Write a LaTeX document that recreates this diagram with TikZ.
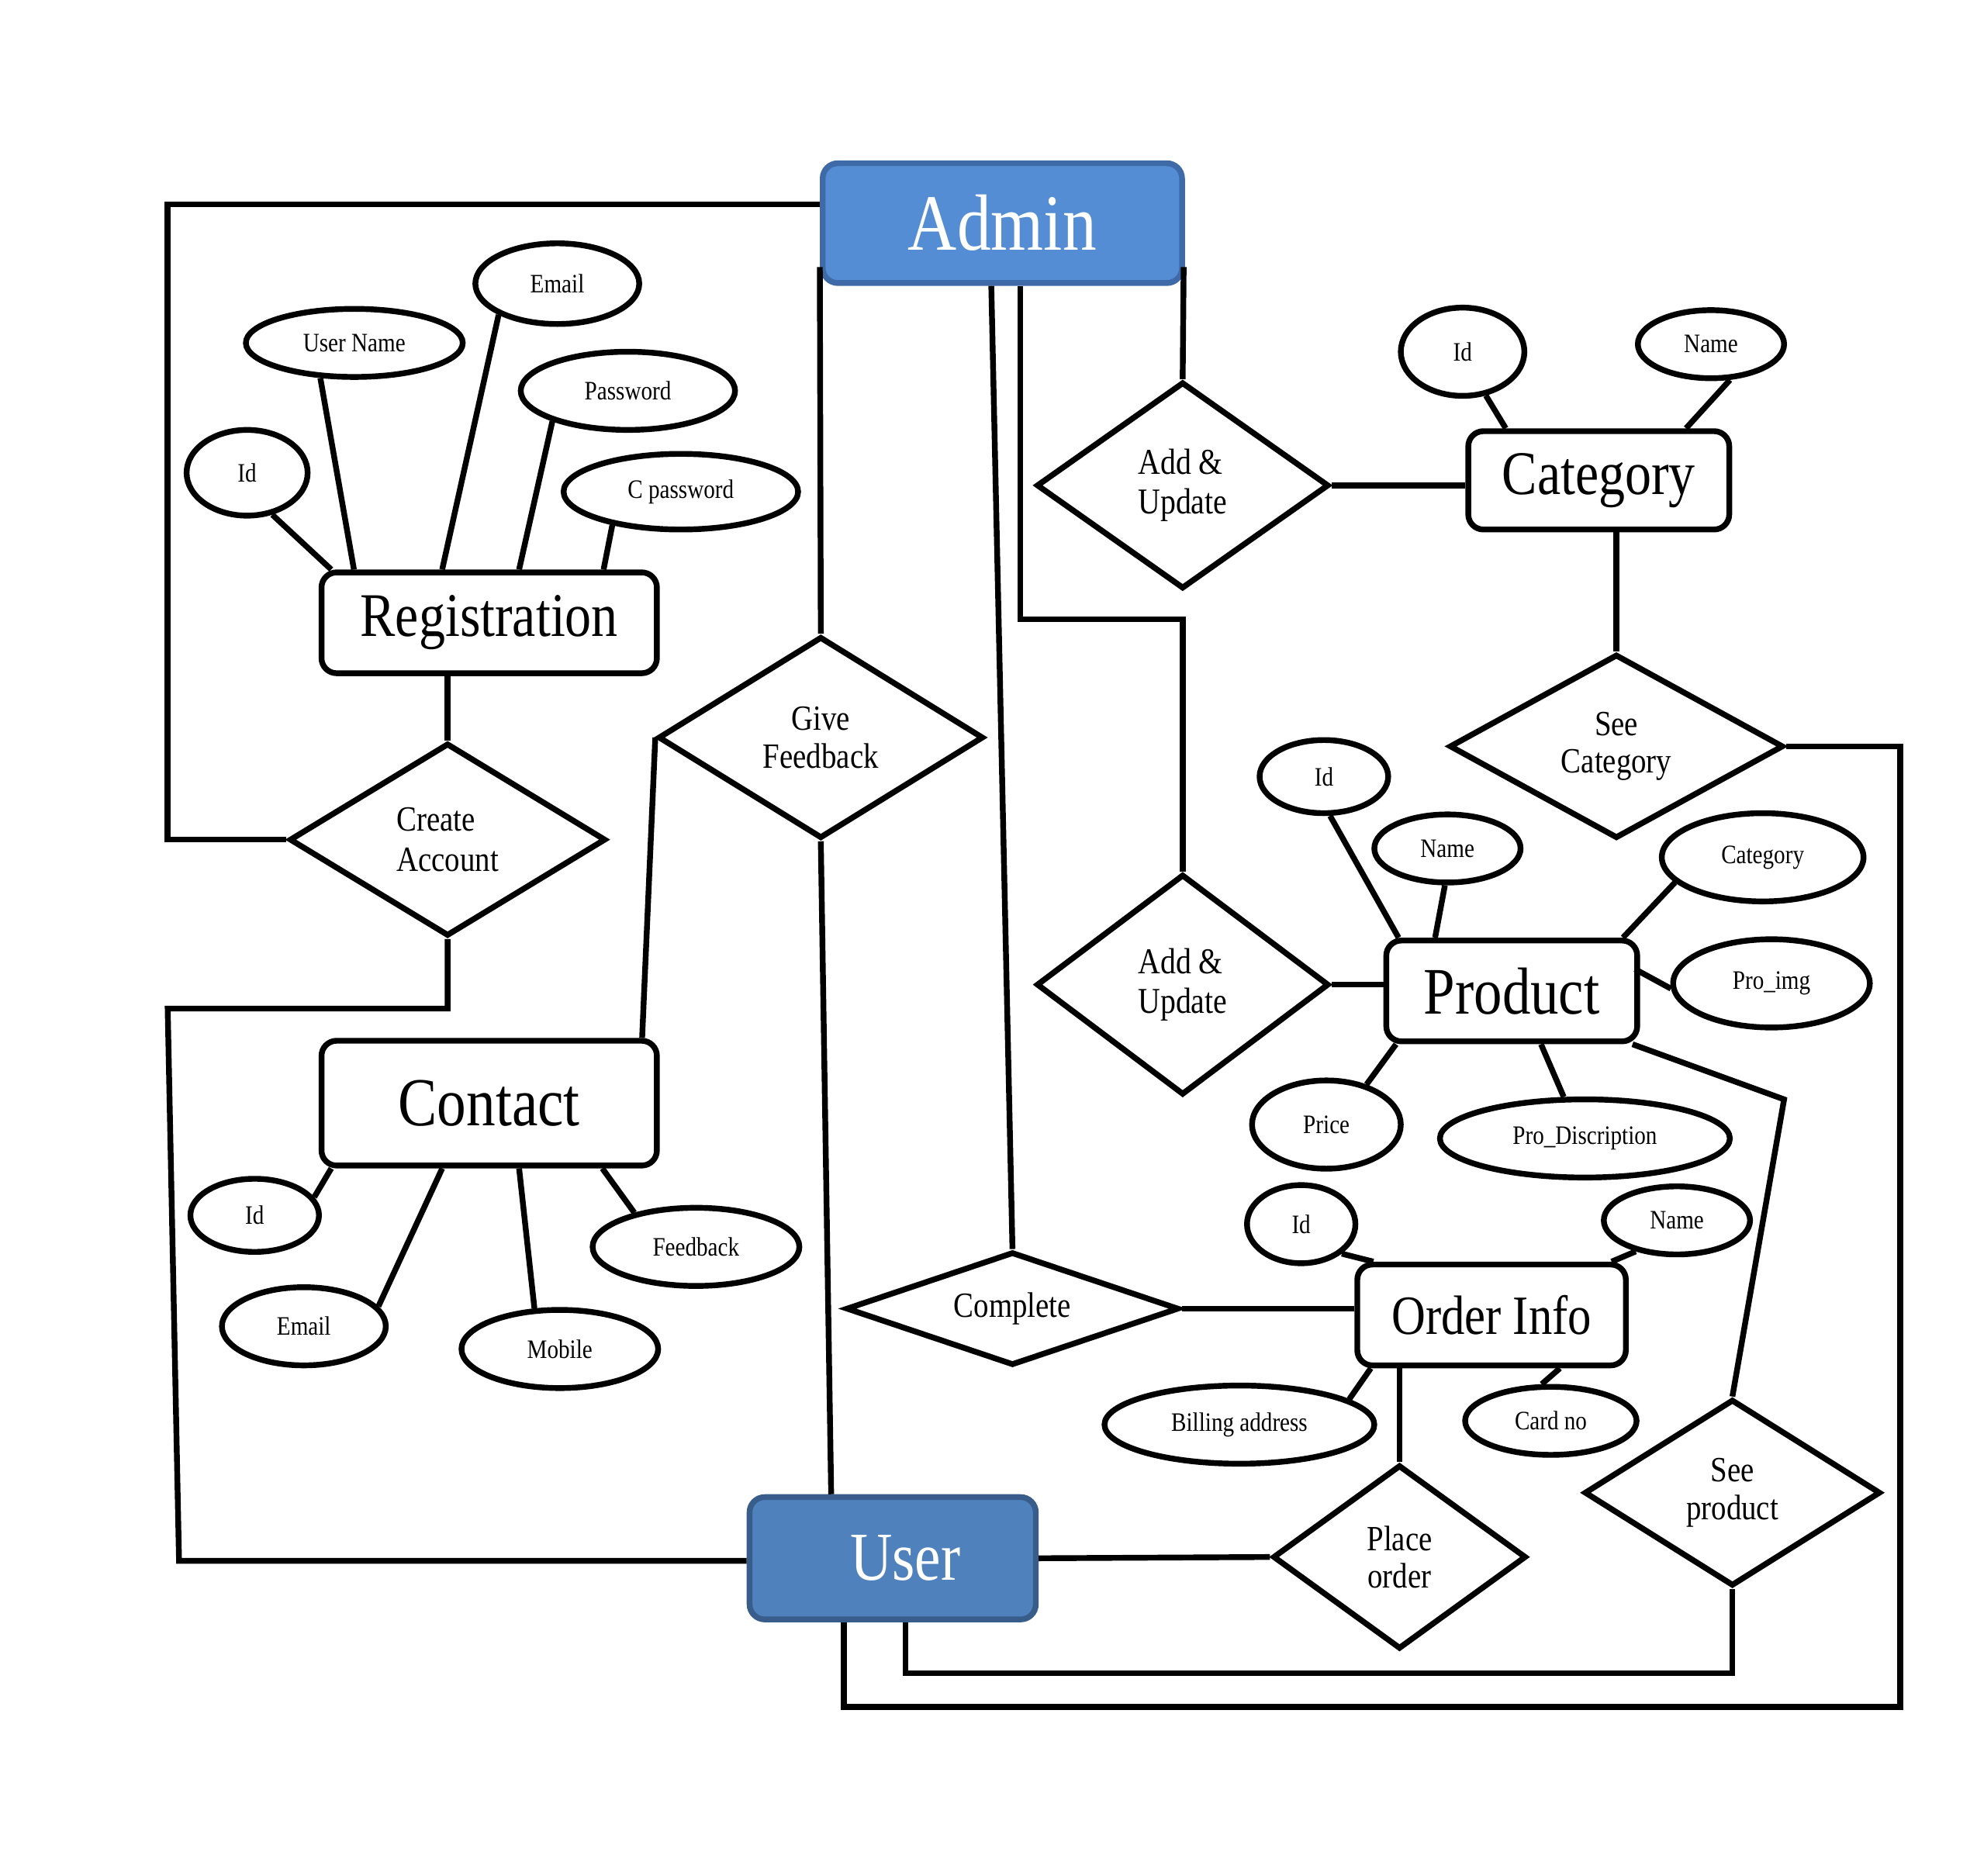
\documentclass[tikz,border=0pt]{standalone}
\usepackage{fontspec}
\setmainfont{Liberation Serif}[FakeStretch=0.85]
\usetikzlibrary{shapes,positioning,calc}
\definecolor{adminblue}{RGB}{84,141,212}
\definecolor{adminedge}{RGB}{62,106,168}
\definecolor{userblue}{RGB}{79,129,189}
\definecolor{useredge}{RGB}{56,93,138}

\tikzset{
  entity/.style={draw, rounded corners=0.12cm, line width=1.3pt, fill=white, inner sep=0pt},
  attr/.style={draw, ellipse, line width=1.3pt, fill=white, inner sep=0pt, font=\fontsize{6}{7}\selectfont},
  rel/.style={draw, diamond, line width=1.3pt, fill=white, inner sep=0pt, align=center, font=\fontsize{8}{8.5}\selectfont},
  link/.style={line width=1.3pt}
}

\begin{document}
\begin{tikzpicture}[x=0.1mm, y=-0.1mm]
    \useasboundingbox (0,0) rectangle (1568,1488);

    % Entities
    \node[entity, fill=adminblue, draw=adminedge, text=white, minimum width=2.85cm, minimum height=0.95cm, font=\fontsize{18}{20}\selectfont] (admin) at (795,177) {Admin};
    \node[entity, minimum width=2.66cm, minimum height=0.8cm, font=\fontsize{14}{16}\selectfont] (registration) at (388,494) {Registration};
    \node[entity, minimum width=2.66cm, minimum height=0.99cm, font=\fontsize{15.5}{17}\selectfont] (contact) at (388,875) {Contact};
    \node[entity, minimum width=2.07cm, minimum height=0.78cm, font=\fontsize{14}{16}\selectfont] (category) at (1268,381) {Category};
    \node[entity, minimum width=1.99cm, minimum height=0.8cm, font=\fontsize{15}{17}\selectfont] (product) at (1199,786) {Product};
    \node[entity, minimum width=2.13cm, minimum height=0.8cm, font=\fontsize{12.5}{14}\selectfont] (orderinfo) at (1183,1043) {Order Info};
    \node[entity, fill=userblue, draw=useredge, text=white, minimum width=2.27cm, minimum height=0.97cm, font=\fontsize{15.5}{17}\selectfont] (user) at (708,1236) {\hspace{0.2cm}User};

    % Relations
    \node[rel, minimum width=2.32cm, minimum height=1.64cm, align=left, font=\fontsize{8.2}{9}\selectfont] (addcat) at (938,385) {Add \&\\Update};
    \node[rel, minimum width=2.32cm, minimum height=1.75cm, align=left, font=\fontsize{8.2}{9}\selectfont] (addpro) at (938,781) {Add \&\\Update};
    \node[rel, minimum width=2.51cm, minimum height=1.53cm, align=left, font=\fontsize{8}{9}\selectfont] (create) at (355,666) {Create\\Account};
    \node[rel, minimum width=2.58cm, minimum height=1.6cm] (feedback) at (651,585) {Give\\Feedback};
    \node[rel, minimum width=2.65cm, minimum height=1.46cm, aspect=1.8] (seecat) at (1282,592) {See\\Category};
    \node[rel, minimum width=2.64cm, minimum height=0.9cm, aspect=2.9] (complete) at (803,1038) {Complete};
    \node[rel, minimum width=2.01cm, minimum height=1.46cm] (placeorder) at (1110,1235) {Place\\order};
    \node[rel, minimum width=2.35cm, minimum height=1.48cm] (seeproduct) at (1374,1184) {See\\product};

    % Attributes of Registration
    \node[attr, minimum width=0.96cm, minimum height=0.68cm] (regid) at (196,375) {Id};
    \node[attr, minimum width=1.72cm, minimum height=0.54cm] (reguser) at (281,272) {User Name};
    \node[attr, minimum width=1.3cm, minimum height=0.64cm] (regemail) at (442,225) {Email};
    \node[attr, minimum width=1.7cm, minimum height=0.62cm] (regpass) at (498,310) {Password};
    \node[attr, minimum width=1.86cm, minimum height=0.6cm] (regcpass) at (540,390) {C password};

    % Attributes of Contact
    \node[attr, minimum width=1.02cm, minimum height=0.58cm] (conid) at (202,964) {Id};
    \node[attr, minimum width=1.3cm, minimum height=0.62cm] (conemail) at (241,1052) {Email};
    \node[attr, minimum width=1.56cm, minimum height=0.62cm] (conmobile) at (444,1070) {Mobile};
    \node[attr, minimum width=1.64cm, minimum height=0.62cm] (confeed) at (552,989) {Feedback};

    % Attributes of Category
    \node[attr, minimum width=0.98cm, minimum height=0.7cm] (catid) at (1160,279) {Id};
    \node[attr, minimum width=1.16cm, minimum height=0.54cm] (catname) at (1357,273) {Name};

    % Attributes of Product
    \node[attr, minimum width=1.02cm, minimum height=0.58cm] (proid) at (1050,616) {Id};
    \node[attr, minimum width=1.16cm, minimum height=0.54cm] (proname) at (1148,673) {Name};
    \node[attr, minimum width=1.6cm, minimum height=0.7cm] (procat) at (1398,680) {Category};
    \node[attr, minimum width=1.56cm, minimum height=0.7cm] (proimg) at (1405,780) {Pro\_img};
    \node[attr, minimum width=1.18cm, minimum height=0.7cm] (proprice) at (1052,892) {Price};
    \node[attr, minimum width=2.3cm, minimum height=0.62cm] (prodesc) at (1257,903) {Pro\_Discription};

    % Attributes of Order Info
    \node[attr, minimum width=0.86cm, minimum height=0.62cm] (ordid) at (1032,971) {Id};
    \node[attr, minimum width=1.16cm, minimum height=0.54cm] (ordname) at (1330,968) {Name};
    \node[attr, minimum width=2.14cm, minimum height=0.62cm] (ordbill) at (983,1130) {Billing address};
    \node[attr, minimum width=1.36cm, minimum height=0.54cm] (ordcard) at (1230,1127) {Card no};

    % Attribute lines
    \draw[link] (regid.-59) -- ($(registration.north west)+(10,0)$);
    \draw[link] (reguser.226) -- ($(registration.north west)+(28,0)$);
    \draw[link] (regemail.208) -- ($(registration.north west)+(98,0)$);
    \draw[link] (regpass.202) -- ($(registration.north west)+(159,0)$);
    \draw[link] (regcpass.206) -- ($(registration.north west)+(226,0)$);
    \draw[link] (conid.17) -- ($(contact.south west)+(10,0)$);
    \draw[link] (conemail.15) -- ($(contact.south west)+(98,0)$);
    \draw[link] (conmobile.122) -- ($(contact.south west)+(159,0)$);
    \draw[link] (confeed.151) -- ($(contact.south west)+(225,0)$);
    \draw[link] (catid.-62) -- ($(category.north west)+(32,0)$);
    \draw[link] (catname.-62) -- ($(category.north west)+(175,0)$);
    \draw[link] (proid.-81) -- ($(product.north west)+(12,0)$);
    \draw[link] (proname.-94) -- ($(product.north west)+(41,0)$);
    \draw[link] (procat.196) -- ($(product.north west)+(190,0)$);
    \draw[link] (proimg.183) -- ($(product.north east)+(-4,25)$);
    \draw[link] (proprice.45) -- ($(product.south west)+(10,0)$);
    \draw[link] (prodesc.117) -- ($(product.south west)+(125,0)$);
    \draw[link] (ordid.-36) -- ($(orderinfo.north west)+(15,0)$);
    \draw[link] (ordname.217) -- ($(orderinfo.north west)+(204,0)$);
    \draw[link] (ordbill.13) -- ($(orderinfo.south west)+(13,0)$);
    \draw[link] (ordcard.104) -- ($(orderinfo.south west)+(163,0)$);

    % Admin side
    \draw[link] ($(admin.north west)+(0,35)$) -| (133,666) -- (create.west);
    \draw[link] ($(admin.south west)+(0,-15)$) -- (feedback.north);
    \draw[link] ($(admin.south west)+(136,0)$) -- (complete.north);
    \draw[link] ($(admin.south west)+(159,0)$) |- ($(addpro.north)+(0,-200)$) -- (addpro.north);
    \draw[link] ($(admin.south east)+(-1,-15)$) -- (addcat.north);
    \draw[link] (addcat.east) -- (addcat.east -| category.west);
    \draw[link] (seecat.north |- category.south) -- (seecat.north);
    \draw[link] (addpro.east) -- (addpro.east -| product.west);
    \draw[link] ($(product.south east)+(-6,0)$) -- (1415,872) -- (seeproduct.north);
    \draw[link] (complete.east) -- (complete.east -| orderinfo.west);
    \draw[link] (placeorder.north |- orderinfo.south) -- (placeorder.north);
    \draw[link] (registration.south -| create.north) -- (create.north);

    % User side
    \draw[link] (create.south) -- (create.south |- 0,800) -- (133,800) -- (142,1238) -- (user.west |- 0,1238);
    \draw[link] (feedback.west) -- ($(contact.north east)+(-14,0)$);
    \draw[link] (feedback.south) -- ($(user.north west)+(67,0)$);
    \draw[link] (user.east) -- (placeorder.west);
    \draw[link] ($(user.south west)+(77,0)$) |- (1507,1354) |- (seecat.east);
    \draw[link] ($(user.south west)+(126,0)$) |- ($(seeproduct.south)+(0,67)$) -- (seeproduct.south);
\end{tikzpicture}
\end{document}
